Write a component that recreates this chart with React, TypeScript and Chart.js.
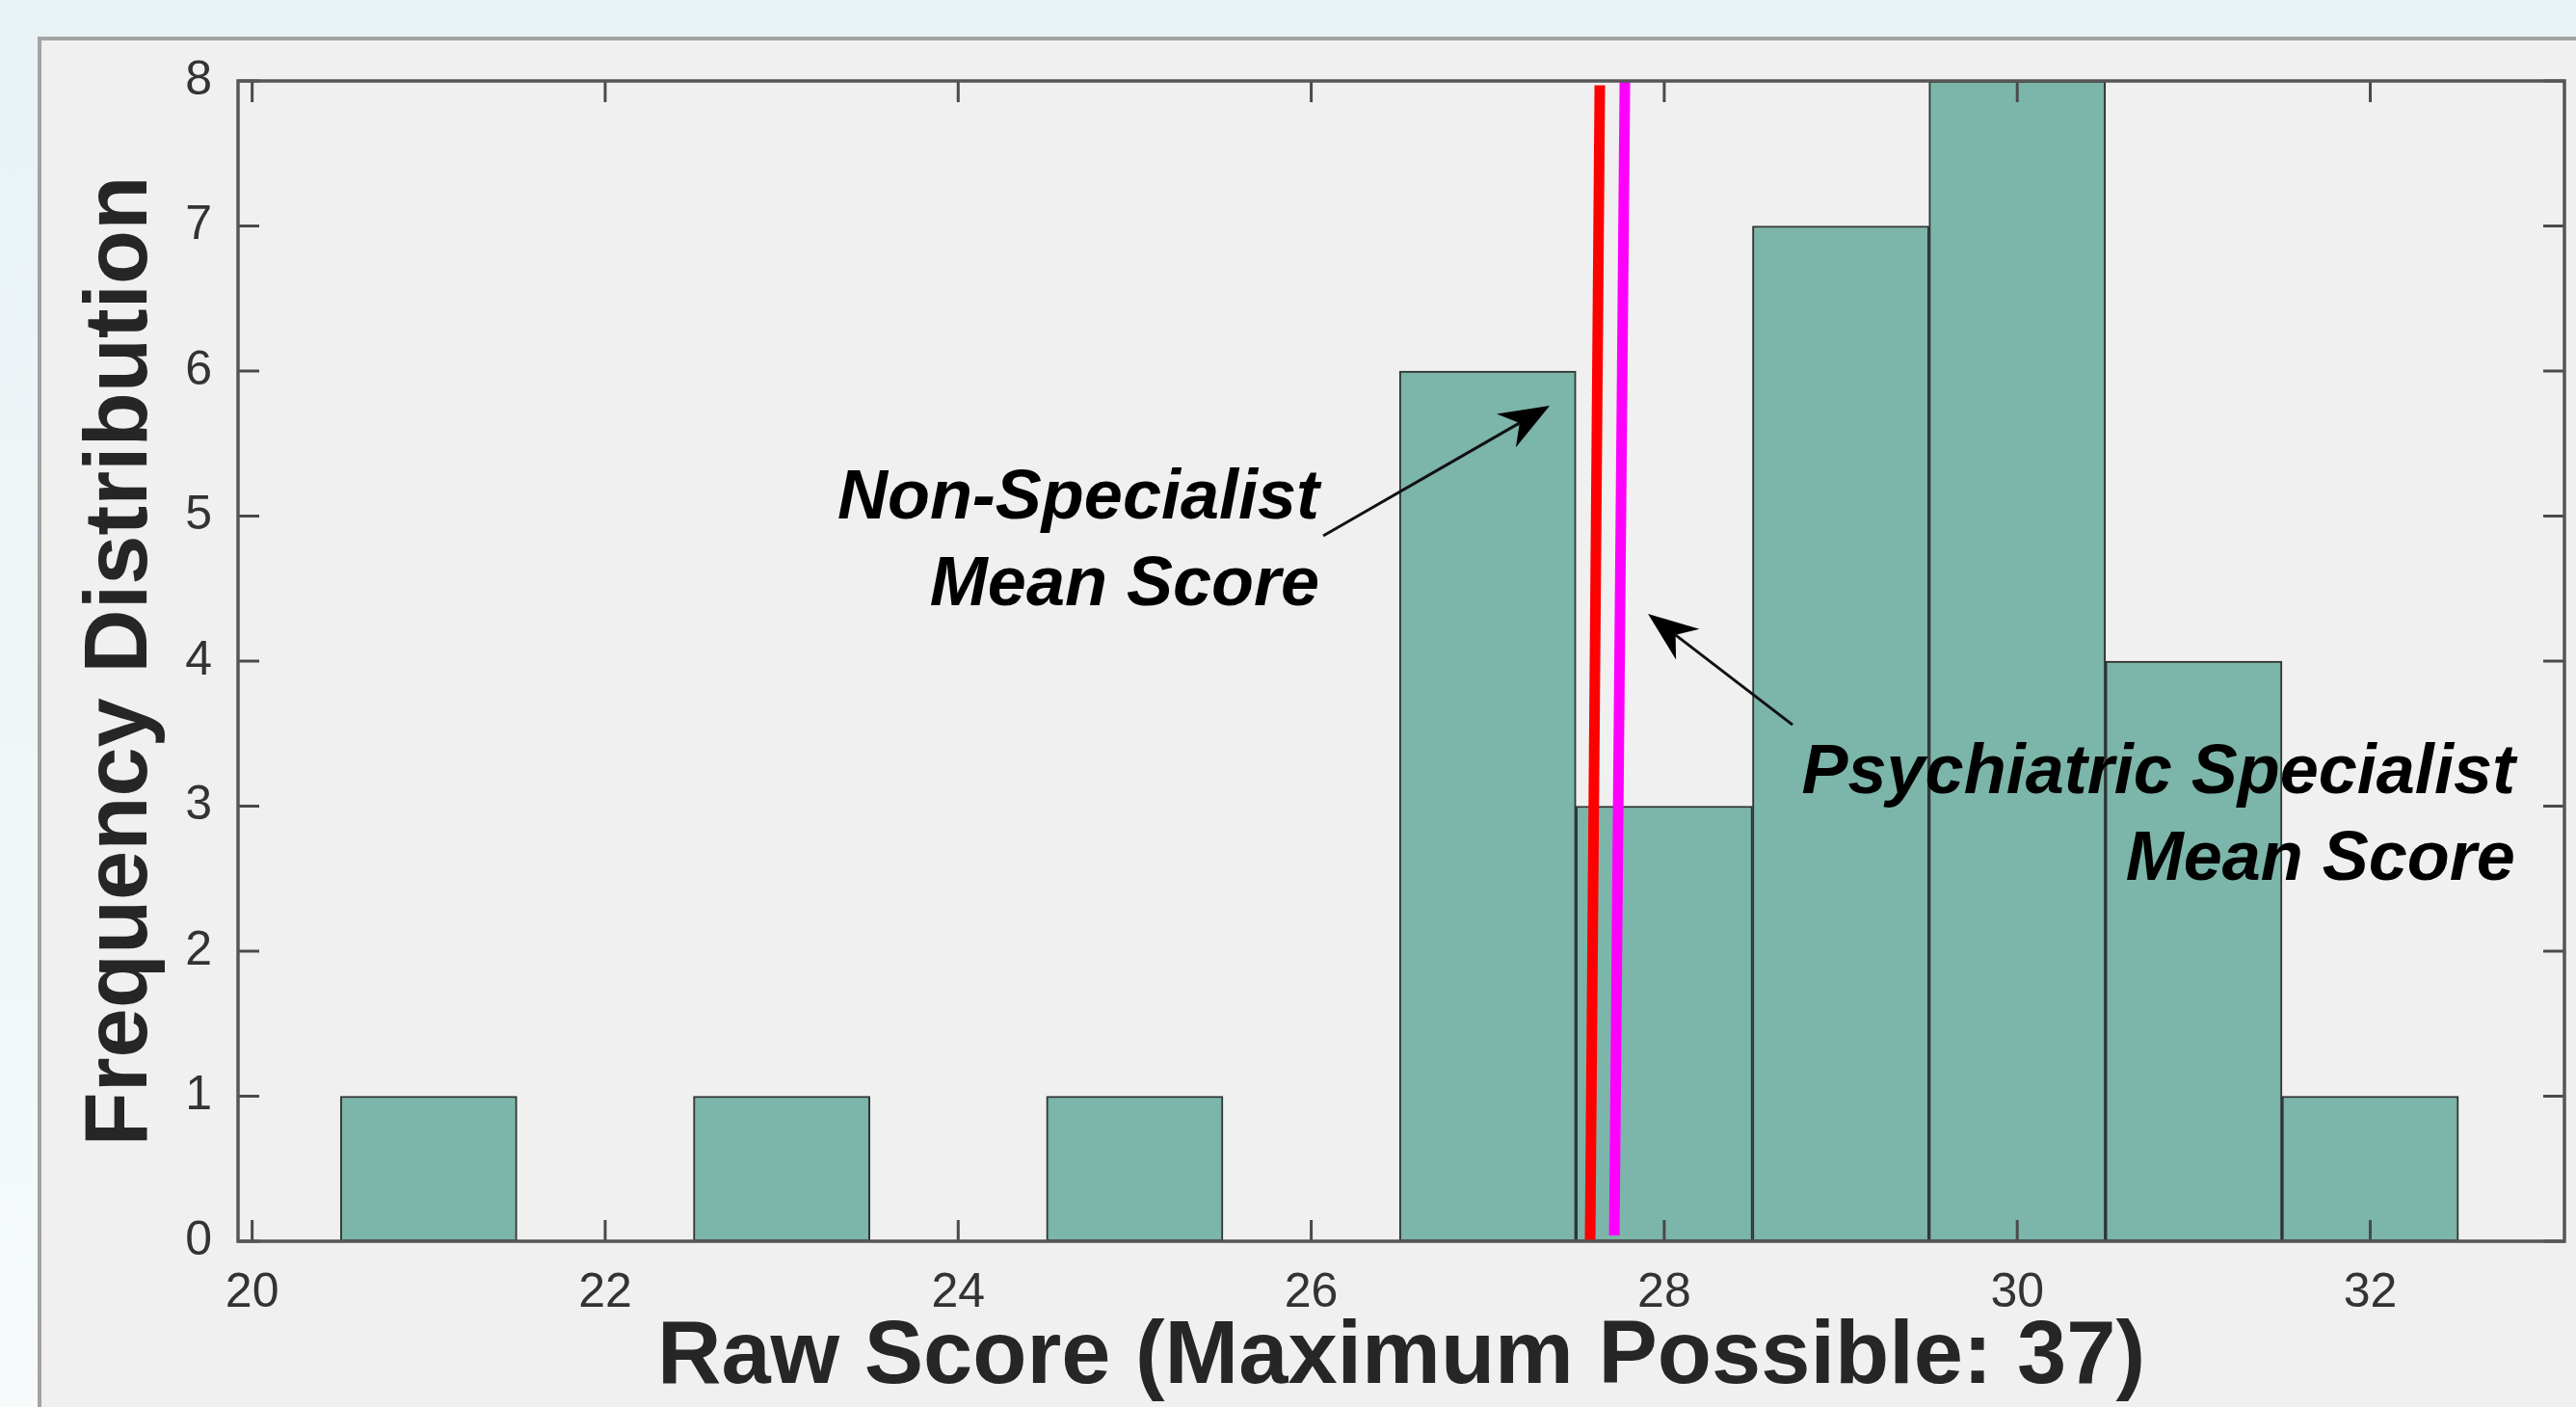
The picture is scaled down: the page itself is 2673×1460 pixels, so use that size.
import React, { useEffect, useRef } from 'react';
import { Chart, registerables } from 'chart.js';

Chart.register(...registerables);

// ---------- data ----------
const binCenters = [21, 22, 23, 24, 25, 26, 27, 28, 29, 30, 31, 32];
const counts = [1, 0, 1, 0, 1, 0, 6, 3, 7, 8, 4, 1];
const xTickValues = [20, 22, 24, 26, 28, 30, 32];
const yTickValues = [0, 1, 2, 3, 4, 5, 6, 7, 8];
const xRange = [19.92, 33.1];
const yRange = [0, 8];

// hand-drawn mean lines (bottom point, top point)
const nonSpecialistMeanLine = [
  { x: 27.58, y: 0 },
  { x: 27.635, y: 7.97 },
];
const psychSpecialistMeanLine = [
  { x: 27.717, y: 0.04 },
  { x: 27.777, y: 8 },
];

// annotations (data coordinates)
const nonSpecialistLabel = ['Non-Specialist', 'Mean Score'];
const nonSpecialistLabelX = 26.046;
const nonSpecialistLabelY = [4.983, 4.385];
const nonSpecialistArrow = { tail: [26.068, 4.864], tip: [27.351, 5.761] };

const psychLabel = ['Psychiatric Specialist', 'Mean Score'];
const psychLabelX = 32.821;
const psychLabelY = [3.09, 2.492];
const psychArrow = { tail: [28.727, 3.561], tip: [27.908, 4.326] };

const xTitle = 'Raw Score (Maximum Possible: 37)';
const yTitle = 'Frequency Distribution';

const FONT = '"Liberation Sans", Arial, Helvetica, sans-serif';

const figurePlugin = {
  id: 'figureBg',
  beforeDraw(chart: any) {
    const { ctx, width, height } = chart;
    ctx.save();
    const g = ctx.createLinearGradient(0, 0, 0, height);
    g.addColorStop(0, '#e8f2f5');
    g.addColorStop(1, '#f6fafb');
    ctx.fillStyle = g;
    ctx.fillRect(0, 0, width, height);
    ctx.fillStyle = '#f0f0f0';
    ctx.fillRect(41, 40, width - 41, height - 40);
    ctx.strokeStyle = '#a3a3a3';
    ctx.lineWidth = 4;
    ctx.beginPath();
    ctx.moveTo(41, height);
    ctx.lineTo(41, 40);
    ctx.lineTo(width, 40);
    ctx.stroke();
    ctx.restore();
  },
};

const boxPlugin = {
  id: 'matlabBox',
  afterDatasetsDraw(chart: any) {
    const { ctx, chartArea: a, scales } = chart;
    const xs = scales.x;
    const ys = scales.y;
    const tl = 22;
    ctx.save();
    ctx.strokeStyle = '#4a4a4a';
    ctx.lineWidth = 3;
    ctx.beginPath();
    xTickValues.forEach((v) => {
      const px = xs.getPixelForValue(v);
      ctx.moveTo(px, a.bottom);
      ctx.lineTo(px, a.bottom - tl);
      ctx.moveTo(px, a.top);
      ctx.lineTo(px, a.top + tl);
    });
    yTickValues.forEach((v) => {
      const py = ys.getPixelForValue(v);
      ctx.moveTo(a.left, py);
      ctx.lineTo(a.left + tl, py);
      ctx.moveTo(a.right, py);
      ctx.lineTo(a.right - tl, py);
    });
    ctx.stroke();
    ctx.strokeStyle = '#565656';
    ctx.lineWidth = 3.5;
    ctx.strokeRect(a.left, a.top, a.right - a.left, a.bottom - a.top);
    ctx.restore();
  },
};

function drawArrow(ctx: any, x0: number, y0: number, x1: number, y1: number) {
  const dx = x1 - x0;
  const dy = y1 - y0;
  const len = Math.hypot(dx, dy);
  const ux = dx / len;
  const uy = dy / len;
  const nx = -uy;
  const ny = ux;
  const headLen = 52;
  const halfW = 20;
  const notch = 36;
  ctx.beginPath();
  ctx.moveTo(x0, y0);
  ctx.lineTo(x1 - ux * notch, y1 - uy * notch);
  ctx.stroke();
  ctx.beginPath();
  ctx.moveTo(x1, y1);
  ctx.lineTo(x1 - ux * headLen + nx * halfW, y1 - uy * headLen + ny * halfW);
  ctx.lineTo(x1 - ux * notch, y1 - uy * notch);
  ctx.lineTo(x1 - ux * headLen - nx * halfW, y1 - uy * headLen - ny * halfW);
  ctx.closePath();
  ctx.fill();
}

const annotationPlugin = {
  id: 'annotations',
  afterDraw(chart: any) {
    const { ctx, scales } = chart;
    const xs = scales.x;
    const ys = scales.y;
    ctx.save();
    ctx.fillStyle = '#000';
    ctx.strokeStyle = '#111';
    ctx.lineWidth = 3;
    ctx.font = `italic bold 72px ${FONT}`;
    ctx.textAlign = 'right';
    ctx.textBaseline = 'alphabetic';
    nonSpecialistLabel.forEach((t, i) => {
      ctx.fillText(t, xs.getPixelForValue(nonSpecialistLabelX), ys.getPixelForValue(nonSpecialistLabelY[i]));
    });
    psychLabel.forEach((t, i) => {
      ctx.fillText(t, xs.getPixelForValue(psychLabelX), ys.getPixelForValue(psychLabelY[i]));
    });
    [nonSpecialistArrow, psychArrow].forEach((a) => {
      drawArrow(
        ctx,
        xs.getPixelForValue(a.tail[0]),
        ys.getPixelForValue(a.tail[1]),
        xs.getPixelForValue(a.tip[0]),
        ys.getPixelForValue(a.tip[1])
      );
    });
    ctx.restore();
  },
};

export default function App() {
  const canvasRef = useRef<HTMLCanvasElement | null>(null);

  useEffect(() => {
    const canvas = canvasRef.current;
    if (!canvas) return;
    const chart = new Chart(canvas, {
      type: 'bar',
      data: {
        datasets: [
          {
            type: 'bar',
            label: 'Frequency',
            data: binCenters.map((x, i) => ({ x, y: counts[i] })),
            backgroundColor: '#7cb5a9',
            borderColor: '#2f3533',
            borderWidth: 2,
            borderSkipped: false,
            barPercentage: 1,
            categoryPercentage: 1,
            order: 2,
          } as any,
          {
            type: 'line',
            label: 'Non-Specialist Mean',
            data: nonSpecialistMeanLine,
            borderColor: '#ff0000',
            borderWidth: 11,
            pointRadius: 0,
            fill: false,
            tension: 0,
            borderCapStyle: 'butt',
            order: 1,
          } as any,
          {
            type: 'line',
            label: 'Psychiatric Specialist Mean',
            data: psychSpecialistMeanLine,
            borderColor: '#ff00ff',
            borderWidth: 11,
            pointRadius: 0,
            fill: false,
            tension: 0,
            borderCapStyle: 'butt',
            order: 0,
          } as any,
        ],
      },
      options: {
        animation: false,
        responsive: false,
        devicePixelRatio: 1,
        layout: { padding: { top: 84, right: 12, left: 0, bottom: 0 } },
        plugins: {
          legend: { display: false },
          tooltip: { enabled: false },
        },
        scales: {
          x: {
            type: 'linear',
            min: xRange[0],
            max: xRange[1],
            offset: false,
            grid: { display: false, drawTicks: false },
            border: { display: false },
            afterBuildTicks: (s: any) => {
              s.ticks = xTickValues.map((v) => ({ value: v }));
            },
            afterFit: (s: any) => {
              s.height = 172;
            },
            ticks: {
              font: { family: FONT, size: 50 },
              color: '#333333',
              padding: 24,
              autoSkip: false,
              maxRotation: 0,
            },
            title: {
              display: true,
              text: xTitle,
              color: '#262626',
              font: { family: FONT, size: 92, weight: 'bold', lineHeight: 1 },
              padding: { top: 0, bottom: 4 },
            },
          },
          y: {
            type: 'linear',
            min: yRange[0],
            max: yRange[1],
            grid: { display: false, drawTicks: false },
            border: { display: false },
            afterBuildTicks: (s: any) => {
              s.ticks = yTickValues.map((v) => ({ value: v }));
            },
            afterFit: (s: any) => {
              s.width = 247;
            },
            ticks: {
              font: { family: FONT, size: 50 },
              color: '#333333',
              padding: 27,
              autoSkip: false,
            },
            title: {
              display: true,
              text: yTitle,
              color: '#262626',
              font: { family: FONT, size: 92, weight: 'bold', lineHeight: 1.2 },
              padding: { top: 71, bottom: 0 },
            },
          },
        },
      } as any,
      plugins: [figurePlugin, boxPlugin, annotationPlugin],
    });
    return () => chart.destroy();
  }, []);

  return (
    <div style={{ position: 'fixed', left: 0, top: 0, width: 2673, height: 1460 }}>
      <canvas ref={canvasRef} width={2673} height={1460} style={{ display: 'block' }} />
    </div>
  );
}
